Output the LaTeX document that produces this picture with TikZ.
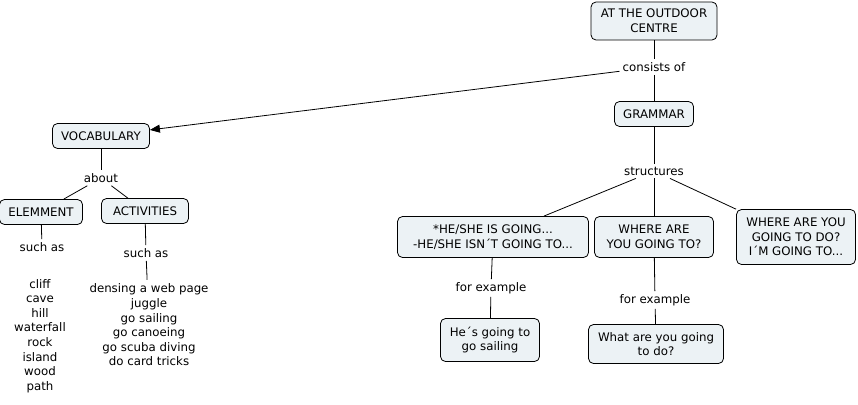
\documentclass[tikz,border=0pt]{standalone}
\usepackage{fontspec}
\setmainfont{DejaVu Sans}
\usetikzlibrary{arrows.meta}

\definecolor{boxfill}{RGB}{236,242,245}

\begin{document}
\begin{tikzpicture}[x=1pt, y=-1pt,
    >={Triangle[length=10pt, width=8pt]},
    font=\fontsize{11.8}{14.6}\selectfont,
    concept/.style={draw=black, fill=boxfill, line width=0.8pt,
        rounded corners=5pt, align=center, inner xsep=5pt, inner ysep=7pt},
    linkword/.style={inner sep=3pt, align=center},
    wordlist/.style={inner sep=4pt, align=center},
    link/.style={draw=black, line width=0.8pt}]

\useasboundingbox (0,0) rectangle (858,404);

% =========================================================
%  TOP: main concept
% =========================================================
\node[concept, minimum width=126pt, minimum height=38pt] (centre) at (654,21) {AT THE OUTDOOR\\CENTRE};
\node[linkword] (consists) at (654,67) {consists of};
\node[concept, minimum width=79pt, minimum height=25pt] (grammar) at (654,114) {GRAMMAR};
\node[concept, minimum width=97pt, minimum height=25pt] (vocab) at (101,136) {VOCABULARY};

\draw[link] (centre) -- (consists);
\draw[link] (consists) -- (grammar);
\draw[link, ->] (consists) -- (vocab);

% =========================================================
%  LEFT SIDE: vocabulary
% =========================================================
\node[linkword] (about) at (101,178) {about};
\node[concept, minimum width=83pt, minimum height=25pt] (elem) at (41,212) {ELEMMENT};
\node[concept, minimum width=87pt, minimum height=25pt] (activ) at (145,211) {ACTIVITIES};

\draw[link] (vocab) -- (about);
\draw[link] (about) -- (elem);
\draw[link] (about) -- (activ);

% --- such as ... ---
\node[linkword] (suchA) at (42,247) {such as};
\node[linkword] (suchB) at (146,253) {such as};
\node[wordlist] (placeA) at (40,336)
    {cliff\\cave\\hill\\waterfall\\rock\\island\\wood\\path};
\node[wordlist] (doB) at (149,325)
    {densing a web page\\juggle\\go sailing\\go canoeing\\go scuba diving\\do card tricks};

\draw[link] (elem) -- (suchA);
\draw[link] (activ) -- (suchB);
\draw[link] (suchB) -- (doB);

% =========================================================
%  RIGHT SIDE: grammar structures
% =========================================================
\node[linkword] (struct) at (654,171) {structures};
\node[concept, minimum width=191pt, minimum height=41pt] (going) at (493,237) {*HE/SHE IS GOING...\\-HE/SHE ISN´T GOING TO...};
\node[concept, minimum width=119pt, minimum height=41pt] (where) at (654,237) {WHERE ARE\\YOU GOING TO?};
\node[concept, minimum width=119pt, minimum height=55pt] (wheredo) at (796,237) {WHERE ARE YOU\\GOING TO DO?\\I´M GOING TO...};

\draw[link] (grammar) -- (struct);
\draw[link] (struct) -- (going);
\draw[link] (struct) -- (where);
\draw[link] (struct) -- (wheredo);

% --- examples ---
\node[linkword] (exA) at (491,288) {for example};
\node[linkword] (exB) at (655,300) {for example};
\node[concept, minimum width=99pt, minimum height=43pt] (sailing) at (490,340) {He´s going to\\go sailing};
\node[concept, minimum width=135pt, minimum height=39pt] (whatdo) at (656,344) {What are you going\\to do?};

\draw[link] (going) -- (exA);
\draw[link] (exA) -- (sailing);
\draw[link] (where) -- (exB);
\draw[link] (exB) -- (whatdo);

\end{tikzpicture}
\end{document}
